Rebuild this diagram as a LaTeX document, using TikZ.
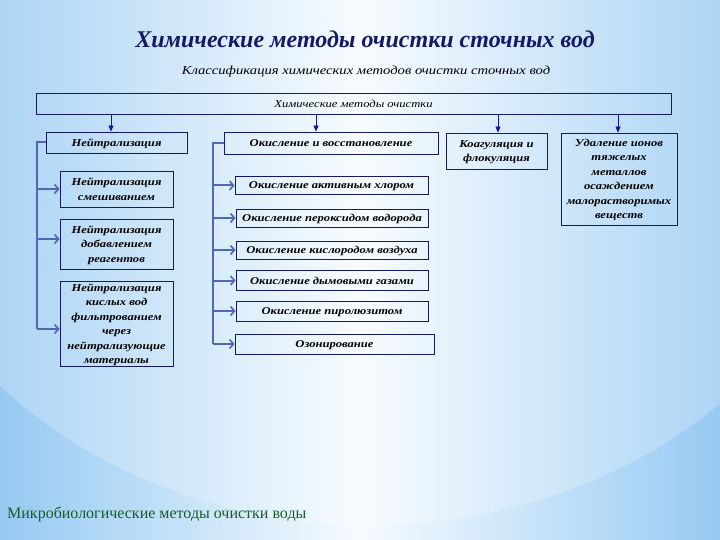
\documentclass[tikz,border=0pt]{standalone}
\usepackage{fontspec}
\setmainfont{Liberation Serif}
\newfontfamily\wide[FakeStretch=1.2]{Liberation Serif}
\newfontfamily\ttl{Liberation Serif}
\usetikzlibrary{arrows.meta}
\definecolor{navy}{HTML}{161A66}
\definecolor{brk}{HTML}{4F68B4}
\definecolor{arr}{HTML}{1414A0}
\definecolor{bgedge}{HTML}{96C9F2}
\definecolor{bgmid}{HTML}{F6FBFF}
\definecolor{grn}{HTML}{145E28}
\begin{document}
\begin{tikzpicture}[x=1pt,y=-1pt,
  box/.style={draw=navy, line width=0.8pt, inner sep=1pt, align=center, text depth=-1.5pt,
    font=\wide\bfseries\itshape\fontsize{10.5}{14.5}\selectfont, text=black},
  brk/.style={draw=brk, line width=2pt},
  btip/.style={-{Straight Barb[length=4pt,width=9pt,line width=1.6pt]}},
  tarr/.style={draw=arr, line width=0.8pt, -{Triangle[length=6pt,width=5pt]}}]
\useasboundingbox (0,0) rectangle (720,540);
% background
\shade[left color=bgedge, right color=bgedge, middle color=bgmid] (0,0) rectangle (720,540);
\fill[white, opacity=0.22] (370,100) ellipse [x radius=500, y radius=425];
% titles
\node[anchor=base, font=\ttl\bfseries\itshape\fontsize{24}{28}\selectfont, text=navy] (title) at (365,48) {Химические методы очистки сточных вод};
\node[anchor=base, font=\wide\itshape\fontsize{12.2}{14}\selectfont, text=black] (sub) at (366,75) {Классификация химических методов очистки сточных вод};
% top box
\node[box, font=\wide\itshape\fontsize{10.5}{13}\selectfont, minimum width=635pt, minimum height=21pt] (top) at (353.5,103.5) {Химические методы очистки};
% left column
\node[box, minimum width=141pt, minimum height=21pt] (n0) at (116.5,142.5) {Нейтрализация};
\node[box, minimum width=113pt, minimum height=36pt] (n1) at (116.5,189) {Нейтрализация\\смешиванием};
\node[box, minimum width=113pt, minimum height=50pt] (n2) at (116.5,244) {Нейтрализация\\добавлением\\реагентов};
\node[box, minimum width=113pt, minimum height=85pt] (n3) at (116.5,323.5) {Нейтрализация\\кислых вод\\фильтрованием\\через\\нейтрализующие\\материалы};
% middle column
\node[box, minimum width=214pt, minimum height=22pt] (m0) at (331,143) {Окисление и восстановление};
\node[box, minimum width=193pt, minimum height=18pt] (m1) at (331.5,185.5) {Окисление активным хлором};
\node[box, minimum width=192pt, minimum height=18pt] (m2) at (332,218) {Окисление пероксидом водорода};
\node[box, minimum width=192pt, minimum height=18pt] (m3) at (332,250) {Окисление кислородом воздуха};
\node[box, minimum width=192pt, minimum height=20pt] (m4) at (332,280.5) {Окисление дымовыми газами};
\node[box, minimum width=192pt, minimum height=20pt] (m5) at (332,311) {Окисление пиролюзитом};
\node[box, minimum width=199pt, minimum height=20pt] (m6) at (334.5,344) {Озонирование};
% right columns
\node[box, minimum width=101pt, minimum height=36pt] (c0) at (496.5,151) {Коагуляция и\\флокуляция};
\node[box, minimum width=116pt, minimum height=92pt] (r0) at (619,179) {Удаление ионов\\тяжелых\\металлов\\осаждением\\малорастворимых\\веществ};
% top arrows
\coordinate (x1) at (111,0);
\coordinate (x2) at (316,0);
\coordinate (x3) at (498,0);
\coordinate (x4) at (618,0);
\draw[tarr] (top.south -| x1) -- (n0.north -| x1);
\draw[tarr] (top.south -| x2) -- (m0.north -| x2);
\draw[tarr] (top.south -| x3) -- (c0.north -| x3);
\draw[tarr] (top.south -| x4) -- (r0.north -| x4);
% left bracket
\coordinate (L) at (37,0);
\coordinate (a2) at ([yshift=5pt]n2.west);
\coordinate (a3) at ([yshift=-5.5pt]n3.west);
\draw[brk] (n0.west) -| (L |- a3);
\draw[brk, btip] (L |- n1.west) -- (n1.west);
\draw[brk, btip] (L |- a2) -- (a2);
\draw[brk, btip] (L |- a3) -- (a3);
% middle bracket
\coordinate (M) at (213,0);
\draw[brk] (m0.west) -| (M |- m6.west);
\foreach \k in {m1,m2,m3,m4,m5,m6}{
  \draw[brk, btip] (M |- \k.west) -- (\k.west);
}
% footer
\node[anchor=base west, inner sep=0pt, font=\fontsize{16}{18}\selectfont, text=grn] (foot) at (7,518) {Микробиологические методы очистки воды};
\end{tikzpicture}
\end{document}
